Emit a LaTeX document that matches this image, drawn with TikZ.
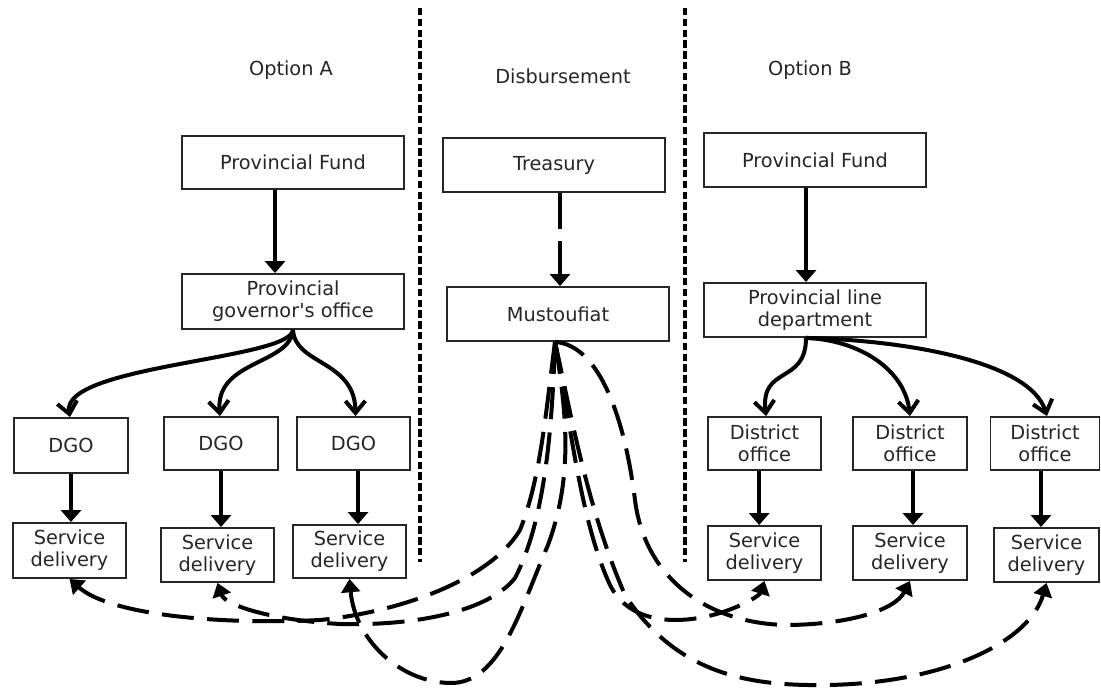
\documentclass[tikz,border=0pt]{standalone}
\usepackage{fontspec}
\setmainfont{DejaVu Sans}[Ligatures=TeXOff]
\usetikzlibrary{arrows.meta}
\begin{document}
\begin{tikzpicture}[x=0.75pt,y=-0.75pt,
  box/.style={draw=black!85,line width=1.4pt,fill=white,align=center,inner sep=0pt,
    font=\fontsize{14.5}{16.5}\selectfont,text=black!85},
  ttl/.style={font=\fontsize{14.5}{16.5}\selectfont,text=black!85},
  sarrow/.style={line width=3pt,-{Triangle[length=9pt,width=15pt]}},
  barb/.style={line width=3pt,-{Straight Barb[length=9pt,width=15pt,line width=3pt]}},
  dcurve/.style={line width=3pt,dash pattern=on 24pt off 10pt,-{Triangle[length=10pt,width=14pt]}},
  divider/.style={line width=3.2pt,dash pattern=on 5.5pt off 2.6pt}]
\useasboundingbox (0,0) rectangle (1101,688);

% dividers
\coordinate (d1t) at (420,8);  \coordinate (d1b) at (420,562);
\coordinate (d2t) at (685,8);  \coordinate (d2b) at (685,562);
\draw[divider] (d1t) -- (d1b);
\draw[divider] (d2t) -- (d2b);

% titles
\node[ttl] (tA) at (291,70) {Option A};
\node[ttl] (tD) at (563,76) {Disbursement};
\node[ttl] (tB) at (810,70) {Option B};

% Option A
\node[box,minimum width=166.5pt,minimum height=39.75pt] (pfa) at (293,162.5) {Provincial Fund};
\node[box,minimum width=166.5pt,minimum height=41.25pt] (pgo) at (293,301.5) {Provincial\\governor's office};
\node[box,minimum width=85.5pt,minimum height=41.25pt] (dgo1) at (71,445.5) {DGO};
\node[box,minimum width=85.5pt,minimum height=39.75pt] (dgo2) at (221,443.5) {DGO};
\node[box,minimum width=84.75pt,minimum height=39.75pt] (dgo3) at (353.5,443.5) {DGO};
\node[box,minimum width=84.75pt,minimum height=41.25pt] (sda1) at (69.5,550.5) {Service\\delivery};
\node[box,minimum width=84.75pt,minimum height=40.5pt] (sda2) at (217.5,555) {Service\\delivery};
\node[box,minimum width=84.75pt,minimum height=39.75pt] (sda3) at (349.5,551.5) {Service\\delivery};

% Disbursement
\node[box,minimum width=166.5pt,minimum height=40.5pt] (tre) at (554,165) {Treasury};
\node[box,minimum width=166.5pt,minimum height=40.5pt] (mus) at (558,314) {Mustoufiat};

% Option B
\node[box,minimum width=166.5pt,minimum height=40.5pt] (pfb) at (815,160) {Provincial Fund};
\node[box,minimum width=166.5pt,minimum height=40.5pt] (pld) at (815,310) {Provincial line\\department};
\node[box,minimum width=84.75pt,minimum height=39.75pt] (do1) at (764.5,443.5) {District\\office};
\node[box,minimum width=85.5pt,minimum height=39.75pt] (do2) at (910,443.5) {District\\office};
\node[box,minimum width=81.75pt,minimum height=39.75pt] (do3) at (1045,443.5) {District\\office};
\node[box,minimum width=84.75pt,minimum height=40.5pt] (sdb1) at (764.5,553) {Service\\delivery};
\node[box,minimum width=85.5pt,minimum height=40.5pt] (sdb2) at (910,553) {Service\\delivery};
\node[box,minimum width=78.75pt,minimum height=40.5pt] (sdb3) at (1046.5,555) {Service\\delivery};

% solid straight arrows
\draw[sarrow] ([xshift=-13.5pt]pfa.south) -- ([xshift=-13.5pt]pgo.north);
\draw[sarrow] ([xshift=-6.75pt]pfb.south) -- ([xshift=-6.75pt]pld.north);
\draw[sarrow] (dgo1.south) -- (dgo1.south |- sda1.north);
\draw[sarrow] (dgo2.south) -- (dgo2.south |- sda2.north);
\draw[sarrow] ([xshift=3.4pt]dgo3.south) -- ([xshift=3.4pt]dgo3.south |- sda3.north);
\draw[sarrow] ([xshift=-4pt]do1.south) -- ([xshift=-4pt]do1.south |- sdb1.north);
\draw[sarrow] ([xshift=2.25pt]do2.south) -- ([xshift=2.25pt]do2.south |- sdb2.north);
\draw[sarrow] ([xshift=-3pt]do3.south) -- ([xshift=-3pt]do3.south |- sdb3.north);
\draw[sarrow,dash pattern=on 27pt off 9pt on 60pt] ([xshift=4.5pt]tre.south) -- ([xshift=1.5pt]mus.north);

% curved solid arrows (Option A)
\draw[barb] (pgo.south) .. controls (290,360) and (60,365) .. ([xshift=-0.75pt]dgo1.north);
\draw[barb] (pgo.south) .. controls (290,365) and (215,360) .. ([xshift=-0.75pt]dgo2.north);
\draw[barb] (pgo.south) .. controls (295,365) and (355,360) .. ([xshift=1.5pt]dgo3.north);

% curved solid arrows (Option B)
\coordinate (pldo) at ([xshift=-6.75pt]pld.south);
\draw[barb] (pldo) .. controls (806,385) and (760,365) .. ([xshift=1.2pt]do1.north);
\draw[barb] (pldo) .. controls (860,340) and (905,370) .. (do2.north);
\draw[barb] (pldo) .. controls (900,340) and (1030,360) .. ([xshift=1.5pt]do3.north);

% dashed disbursement curves
\coordinate (M) at ([xshift=-2.25pt]mus.south);
\draw[dcurve] (M) .. controls (545,420) and (540,480) .. (520,530)
  .. controls (490,580) and (400,612) .. (320,620)
  .. controls (220,625) and (110,615) .. (sda1.south);
\draw[dcurve] (M) .. controls (552,430) and (545,520) .. (515,578)
  .. controls (490,610) and (420,626) .. (340,624)
  .. controls (270,620) and (225,605) .. (sda2.south);
\draw[dcurve] (M) .. controls (568,420) and (572,480) .. (548,545)
  .. controls (520,610) and (500,684) .. (450,683)
  .. controls (400,682) and (355,640) .. (sda3.south);
\draw[dcurve] (M) .. controls (570,420) and (580,520) .. (610,585)
  .. controls (630,625) and (680,625) .. (720,613)
  .. controls (745,605) and (760,595) .. (sdb1.south);
\draw[dcurve] (M) .. controls (600,345) and (625,420) .. (635,500)
  .. controls (645,580) and (710,625) .. (790,625)
  .. controls (850,624) and (895,610) .. (sdb2.south);
\draw[dcurve] (M) .. controls (572,420) and (588,510) .. (625,595)
  .. controls (680,680) and (760,686) .. (830,685)
  .. controls (950,682) and (1030,640) .. (sdb3.south);
\end{tikzpicture}
\end{document}
